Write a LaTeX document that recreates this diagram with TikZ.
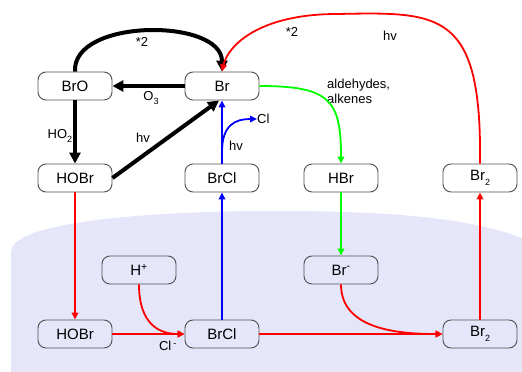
\documentclass[tikz,border=0pt]{standalone}
\usepackage{fontspec}
\setmainfont{Liberation Sans}
\usetikzlibrary{arrows.meta}
\definecolor{bgcol}{RGB}{230,230,250}
\definecolor{boxcol}{RGB}{80,80,80}
\newcommand\mysub[1]{\raisebox{-0.55ex}{\fontsize{9}{9}\selectfont #1}}
\begin{document}
\begin{tikzpicture}[x=1pt,y=-1pt,
  box/.style={draw=boxcol, line width=0.9pt, rounded corners=8pt, minimum width=74pt, minimum height=28pt, inner sep=0pt, font=\fontsize{15}{18}\selectfont},
  lbl/.style={inner sep=0pt, font=\fontsize{13}{15}\selectfont},
  blackarr/.style={line width=4pt, -{Triangle[length=11pt,width=11pt]}},
  redarr/.style={draw=red, line width=1.8pt, -{Triangle[length=7pt,width=6.5pt]}},
  bluearr/.style={draw=blue, line width=1.8pt, -{Triangle[length=7pt,width=6.5pt]}},
  greenarr/.style={draw=green, line width=1.8pt, -{Triangle[length=7pt,width=6.5pt]}}
]
\useasboundingbox (0,0) rectangle (522,372);
\fill[bgcol] (11,372) -- (11,252) .. controls (11,225) and (120,213) .. (250,211) .. controls (390,210) and (470,218) .. (522,238) -- (522,372) -- cycle;

% boxes
\node[box] (BrO) at (75,86) {BrO};
\node[box] (Br) at (222,86) {Br};
\node[box] (HOBrT) at (75,178) {HOBr};
\node[box] (BrClT) at (222,178) {BrCl};
\node[box] (HBr) at (341,178) {HBr};
\node[box] (Br2T) at (480,178) {Br\mysub{2}};
\node[box] (Hp) at (139,270) {H\textsuperscript{+}};
\node[box] (Brm) at (341,270) {Br\textsuperscript{-}};
\node[box] (HOBrB) at (75,334) {HOBr};
\node[box] (BrClB) at (222,334) {BrCl};
\node[box] (Br2B) at (480,334) {Br\mysub{2}};

% labels
\node[lbl] (star1) at (142,42) {*2};
\node[lbl] (O3) at (151,98) {O\mysub{3}};
\node[lbl] (HO2) at (60,136) {HO\mysub{2}};
\node[lbl] (hv1) at (143,138) {hv};
\node[lbl] (hv2) at (236,146) {hv};
\node[lbl, anchor=west] (Cl) at (257,119) {Cl};
\node[lbl, anchor=north west, align=left] (ald) at (327,79) {aldehydes,\\alkenes};
\node[lbl] (star2) at (292,32) {*2};
\node[lbl] (hv3) at (390,36) {hv};
\node[lbl] (Clm) at (168,346) {Cl\,\textsuperscript{-}};
\coordinate (branch) at (222,152);

% black connectors
\draw[blackarr] (BrO.north) .. controls (72,18) and (222,18) .. (Br.north);
\draw[blackarr] (Br.west) -- (BrO.east);
\draw[blackarr] (BrO.south) -- (HOBrT.north);
\draw[blackarr] (HOBrT.east) -- ([xshift=-3pt]Br.south);

% red connectors
\draw[redarr] (HOBrT.south) -- (HOBrB.north);
\draw[redarr] (HOBrB.east) -- (BrClB.west);
\draw[redarr] (Hp.south) .. controls (139,325) and (160,334) .. (BrClB.west);
\draw[redarr] (BrClB.east) -- (Br2B.west);
\draw[redarr] (Brm.south) .. controls (341,330) and (400,334) .. (Br2B.west);
\draw[redarr] (Br2B.north) -- (Br2T.south);
\draw[redarr] (Br2T.north) .. controls (482,10) and (440,12) .. (337,14) .. controls (260,14) and (228,45) .. (Br.north);

% blue connectors
\draw[bluearr] (BrClB.north) -- (BrClT.south);
\draw[bluearr] (BrClT.north) -- (Br.south);
\draw[bluearr] (branch) .. controls (222,125) and (235,119) .. (Cl.west);

% green connectors
\draw[greenarr] (Br.east) .. controls (330,86) and (341,100) .. (HBr.north);
\draw[greenarr] (HBr.south) -- (Brm.north);
\end{tikzpicture}
\end{document}
